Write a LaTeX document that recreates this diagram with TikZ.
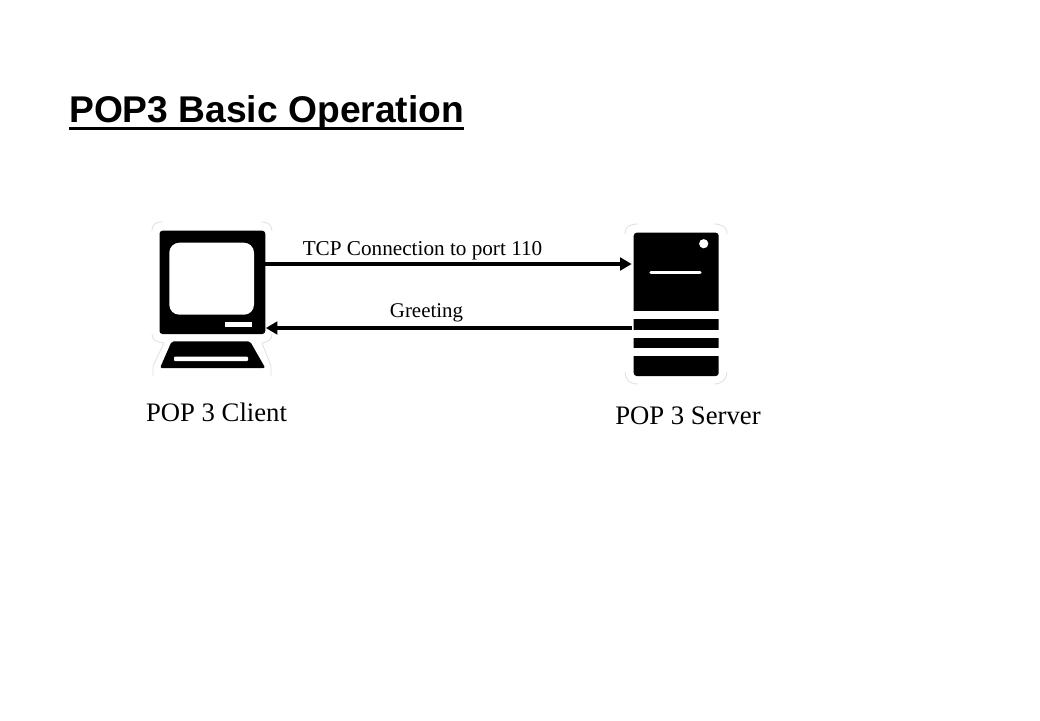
\documentclass[tikz,border=0pt]{standalone}
\usepackage{fontspec}
\setmainfont{Liberation Serif}
\newfontfamily\titlefont{Liberation Sans}
\usetikzlibrary{arrows.meta,calc}
\tikzset{
  x=1pt,y=-1pt,
  solidbox/.style={fill=black,draw=none,inner sep=0pt,outer sep=0pt,rounded corners=3pt},
  cutout/.style={fill=white,draw=none},
  ghost/.style={draw=black!12,line width=0.8pt},
  conn/.style={line width=4pt,-{Triangle[length=11.5pt,width=12.5pt]}},
  lab/.style={inner sep=0pt,anchor=base},
}
\begin{document}
\begin{tikzpicture}
\useasboundingbox (0,0) rectangle (1040,720);
\fill[white] (0,0) rectangle (1040,720);
% title
\node[lab,anchor=base west] (title) at (69,122.7) {\titlefont\bfseries\fontsize{37.2pt}{40pt}\selectfont POP3 Basic Operation};
\fill (69,126.7) rectangle (463.5,129.9);
% faint halo corners, client
\draw[ghost] (152,231) .. controls (152,224) and (156,222) .. (162,222);
\draw[ghost] (262,222) .. controls (268,222) and (272,225) .. (272,231);
\draw[ghost] (152,334) .. controls (152,340) and (156,342) .. (164,343);
\draw[ghost] (262,343) .. controls (268,342) and (272,340) .. (272,334);
\draw[ghost] (164,343) -- (153,366) -- (153,376);
\draw[ghost] (262,343) -- (271,366) -- (271,376);
% client monitor
\node[solidbox,minimum width=105.8pt,minimum height=103.3pt] (client) at (212.4,282.35) {};
\fill[cutout,rounded corners=10pt] (169.3,242.7) rectangle (254,314.7);
\fill[cutout] (225,322) rectangle (252,327);
% keyboard
\fill[black,rounded corners=2pt] (171.7,341.3) -- (250,341.3) -- (265.3,368) -- (160,368) -- cycle;
\fill[cutout,rounded corners=1pt] (174,356.5) rectangle (248,361);
% server
\draw[ghost] (625,234) .. controls (625,227) and (629,224) .. (638,224);
\draw[ghost] (714,224) .. controls (722,224) and (727,227) .. (727,234);
\draw[ghost] (625,372) .. controls (625,379) and (629,384) .. (638,384);
\draw[ghost] (714,384) .. controls (722,384) and (727,379) .. (727,372);
\node[solidbox,minimum width=85pt,minimum height=143.3pt] (server) at (676.2,304.35) {};
\fill[cutout] (632,311) rectangle (720,319);
\fill[cutout] (632,330) rectangle (720,338.3);
\fill[cutout] (632,348.3) rectangle (720,356);
\fill[cutout] (703.7,243.7) circle (4.6);
\draw[white,line width=3.4pt,line cap=round] (651,272.5) -- (700,272.5);
% connectors
\coordinate (reqstart) at ($(client.north east)!0.3224!(client.south east)$);
\coordinate (repstart) at ($(server.north west)!0.665!(server.south west)+(-1.5,0)$);
\draw[conn] (reqstart) -- ($(server.west |- reqstart)+(-2,0)$);
\draw[conn] (repstart) -- ($(client.east |- repstart)+(0.5,0)$);
% labels
\node[lab] (t1) at (422.5,255) {\fontsize{21.2pt}{23pt}\selectfont TCP Connection to port 110};
\node[lab] (t2) at (426.5,317.3) {\fontsize{20.9pt}{23pt}\selectfont Greeting};
\node[lab] (t3) at (216.5,421) {\fontsize{26.7pt}{29pt}\selectfont POP 3 Client};
\node[lab] (t4) at (688,424) {\fontsize{26.7pt}{29pt}\selectfont POP 3 Server};
\end{tikzpicture}
\end{document}
